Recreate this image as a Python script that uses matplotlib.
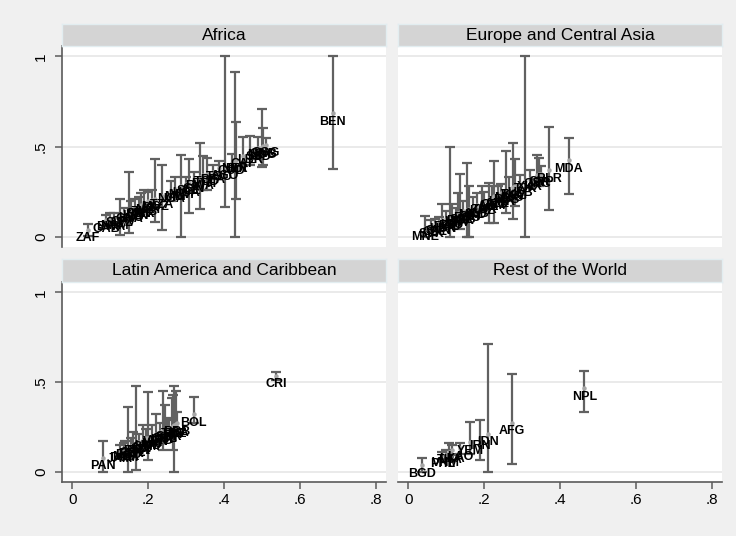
import numpy as np
import matplotlib
matplotlib.use("Agg")
import matplotlib.pyplot as plt

plt.rcParams['font.family'] = ['Liberation Sans', 'DejaVu Sans']

# data: x, y (grey dots), lower / upper ends of the bars
af_code = ['ZAF', 'GAB', 'BWA', 'NAM', 'SWZ', 'CPV', 'GHA', 'LSO', 'KEN', 'SEN',
           'CMR', 'ZMB', 'MRT', 'CIV', 'MOZ', 'TZA', 'NGA', 'MLI', 'MWI', 'UGA',
           'SLE', 'GIN', 'RWA', 'ETH', 'TCD', 'BFA', 'TGO', 'AGO', 'COD', 'NER',
           'BDI', 'CAF', 'LBR', 'SSD', 'MDG', 'GNB', 'COG', 'BEN']
af_x = [0.041, 0.090, 0.100, 0.110, 0.125, 0.135, 0.150, 0.155, 0.165, 0.175,
        0.180, 0.190, 0.200, 0.210, 0.217, 0.235, 0.260, 0.270, 0.287, 0.300,
        0.307, 0.320, 0.336, 0.345, 0.354, 0.370, 0.387, 0.401, 0.420, 0.428,
        0.432, 0.450, 0.468, 0.490, 0.500, 0.503, 0.510, 0.686]
af_y = [0.039, 0.090, 0.100, 0.105, 0.120, 0.130, 0.145, 0.150, 0.160, 0.170,
        0.175, 0.185, 0.195, 0.205, 0.210, 0.225, 0.255, 0.265, 0.280, 0.290,
        0.300, 0.310, 0.330, 0.340, 0.350, 0.360, 0.380, 0.385, 0.410, 0.420,
        0.425, 0.450, 0.470, 0.490, 0.500, 0.505, 0.510, 0.684]
af_lo = [0.005, 0.060, 0.070, 0.080, 0.011, 0.100, 0.022, 0.100, 0.120, 0.130,
         0.140, 0.140, 0.150, 0.160, 0.081, 0.035, 0.200, 0.220, 0.000, 0.250,
         0.131, 0.270, 0.152, 0.258, 0.258, 0.320, 0.350, 0.165, 0.370, 0.000,
         0.208, 0.390, 0.400, 0.430, 0.388, 0.400, 0.470, 0.376]
af_hi = [0.072, 0.120, 0.130, 0.130, 0.208, 0.160, 0.360, 0.200, 0.210, 0.220,
         0.240, 0.260, 0.250, 0.260, 0.430, 0.400, 0.310, 0.330, 0.453, 0.330,
         0.430, 0.360, 0.517, 0.445, 0.435, 0.400, 0.420, 1.000, 0.460, 0.911,
         0.638, 0.551, 0.556, 0.550, 0.709, 0.601, 0.545, 1.000]

eu_code = ['MNE', 'SVK', 'CZE', 'SVN', 'HUN', 'POL', 'EST', 'LTU', 'LVA', 'HRV',
           'BGR', 'SRB', 'ROU', 'BIH', 'MKD', 'ALB', 'KAZ', 'TUR', 'LIE', 'ARM',
           'GEO', 'AZE', 'UKR', 'RUS', 'MNG', 'KGZ', 'TKM', 'UZB', 'TJK', 'XKX',
           'GRC', 'ISR', 'CYP', 'BLR', 'MDA']
eu_x = [0.045, 0.060, 0.070, 0.080, 0.090, 0.100, 0.110, 0.115, 0.125, 0.130,
        0.137, 0.145, 0.155, 0.160, 0.170, 0.180, 0.194, 0.200, 0.213, 0.220,
        0.227, 0.235, 0.245, 0.257, 0.265, 0.277, 0.280, 0.295, 0.308, 0.320,
        0.339, 0.345, 0.350, 0.370, 0.422]
eu_y = [0.047, 0.060, 0.070, 0.080, 0.090, 0.100, 0.105, 0.110, 0.120, 0.130,
        0.135, 0.140, 0.150, 0.155, 0.165, 0.175, 0.190, 0.195, 0.210, 0.215,
        0.225, 0.230, 0.240, 0.250, 0.260, 0.275, 0.280, 0.290, 0.310, 0.320,
        0.340, 0.345, 0.350, 0.369, 0.425]
eu_lo = [0.000, 0.030, 0.040, 0.050, 0.050, 0.060, 0.000, 0.060, 0.070, 0.080,
         0.040, 0.090, 0.000, 0.000, 0.120, 0.130, 0.140, 0.150, 0.078, 0.170,
         0.078, 0.190, 0.200, 0.130, 0.200, 0.096, 0.170, 0.240, 0.000, 0.270,
         0.280, 0.280, 0.310, 0.150, 0.239]
eu_hi = [0.113, 0.090, 0.100, 0.110, 0.180, 0.140, 0.500, 0.180, 0.160, 0.240,
         0.345, 0.200, 0.410, 0.280, 0.220, 0.240, 0.280, 0.250, 0.300, 0.280,
         0.420, 0.280, 0.290, 0.477, 0.330, 0.518, 0.430, 0.340, 1.000, 0.370,
         0.453, 0.435, 0.390, 0.610, 0.545]

la_code = ['PAN', 'JAM', 'DOM', 'MEX', 'ECU', 'PER', 'COL', 'BRA', 'PRY', 'SLV',
           'GTM', 'HND', 'NIC', 'VEN', 'ARG', 'URY', 'CHL', 'GUY', 'SUR', 'HTI',
           'TTO', 'BLZ', 'LCA', 'BRB', 'BOL', 'CRI']
la_x = [0.081, 0.125, 0.135, 0.140, 0.147, 0.155, 0.160, 0.169, 0.175, 0.185,
        0.195, 0.199, 0.210, 0.220, 0.230, 0.238, 0.243, 0.250, 0.255, 0.262,
        0.265, 0.269, 0.272, 0.275, 0.320, 0.537]
la_y = [0.076, 0.115, 0.125, 0.130, 0.140, 0.145, 0.150, 0.160, 0.165, 0.175,
        0.185, 0.190, 0.200, 0.210, 0.220, 0.225, 0.230, 0.235, 0.240, 0.250,
        0.255, 0.260, 0.265, 0.270, 0.321, 0.536]
la_lo = [0.000, 0.080, 0.090, 0.100, 0.000, 0.100, 0.110, 0.010, 0.120, 0.120,
         0.140, 0.067, 0.150, 0.170, 0.180, 0.120, 0.180, 0.190, 0.190, 0.200,
         0.120, 0.000, 0.210, 0.220, 0.270, 0.510]
la_hi = [0.172, 0.150, 0.160, 0.170, 0.363, 0.190, 0.220, 0.475, 0.210, 0.260,
         0.240, 0.446, 0.260, 0.320, 0.270, 0.452, 0.370, 0.290, 0.300, 0.410,
         0.430, 0.479, 0.450, 0.330, 0.419, 0.558]

rw_code = ['BGD', 'PHL', 'VNM', 'THA', 'LKA', 'LAO', 'YEM', 'IRN', 'IDN', 'AFG', 'NPL']
rw_x = [0.036, 0.090, 0.100, 0.108, 0.115, 0.136, 0.163, 0.188, 0.210, 0.272, 0.464]
rw_y = [0.035, 0.090, 0.095, 0.110, 0.120, 0.130, 0.163, 0.190, 0.211, 0.273, 0.466]
rw_lo = [0.000, 0.070, 0.070, 0.080, 0.090, 0.100, 0.100, 0.067, 0.000, 0.045, 0.334]
rw_hi = [0.078, 0.110, 0.120, 0.160, 0.150, 0.160, 0.276, 0.289, 0.714, 0.544, 0.562]

titles = ['Africa', 'Europe and Central Asia', 'Latin America and Caribbean', 'Rest of the World']
x_ticks = [0, 0.2, 0.4, 0.6, 0.8]
x_labels = ['0', '.2', '.4', '.6', '.8']
y_ticks = [0, 0.5, 1]
y_labels = ['0', '.5', '1']

groups = [(af_code, af_x, af_y, af_lo, af_hi),
          (eu_code, eu_x, eu_y, eu_lo, eu_hi),
          (la_code, la_x, la_y, la_lo, la_hi),
          (rw_code, rw_x, rw_y, rw_lo, rw_hi)]

W, H = 736, 536
fig = plt.figure(figsize=(W / 100, H / 100), dpi=100, facecolor='#f0f0f0')

axis_col = '#5a5a5a'
# pixel boxes (left, top, right, bottom) of the plot regions
boxes = [(62, 46, 386, 247), (398, 46, 722, 247),
         (62, 282, 386, 482), (398, 282, 722, 482)]

for i, (box, title, grp) in enumerate(zip(boxes, titles, groups)):
    l, t, r, b = box
    ax = fig.add_axes([l / W, 1 - b / H, (r - l) / W, (b - t) / H])
    ax.set_facecolor('white')
    code, x, y, lo, hi = grp
    x = np.array(x); y = np.array(y)
    lo = np.array(lo); hi = np.array(hi)

    for yt in y_ticks:
        ax.axhline(yt, color='#e8e8e8', lw=1.3, zorder=0)

    ax.errorbar(x, y, yerr=[y - lo, hi - y], fmt='none', ecolor='#616161',
                elinewidth=1.6, capsize=3.3, capthick=1.6, zorder=2)
    ax.plot(x, y, 'o', color='#a6a6a6', ms=3.2, mew=0, zorder=3)
    for c, xx, yy in zip(code, x, y):
        ax.annotate(c, (xx, yy), xytext=(0, -8.5), textcoords='offset pixels',
                    ha='center', va='center', fontsize=9, fontweight='bold',
                    color='black', zorder=4)

    ax.set_xlim(-0.027, 0.826)
    ax.set_ylim(-0.058, 1.058)
    for s in ax.spines.values():
        s.set_visible(False)

    left = i % 2 == 0
    bottom = i >= 2
    if left:
        ax.spines['left'].set_visible(True)
        ax.spines['left'].set_color(axis_col)
        ax.spines['left'].set_linewidth(1.2)
        ax.set_yticks(y_ticks)
        ax.set_yticklabels(y_labels, rotation=90, va='center', fontsize=11)
        ax.tick_params(axis='y', length=5, width=1.1, color=axis_col, pad=5)
    else:
        ax.set_yticks([])
    if bottom:
        ax.spines['bottom'].set_visible(True)
        ax.spines['bottom'].set_color(axis_col)
        ax.spines['bottom'].set_linewidth(1.2)
        ax.set_xticks(x_ticks)
        ax.set_xticklabels(x_labels, fontsize=11)
        ax.tick_params(axis='x', length=5, width=1.1, color=axis_col, pad=3)
    else:
        ax.set_xticks([])

    # grey title strip above the panel
    bt = t - 22 if i < 2 else t - 23
    tax = fig.add_axes([l / W, 1 - t / H, (r - l) / W, (t - bt) / H])
    tax.set_facecolor('#d4d4d4')
    tax.set_xticks([]); tax.set_yticks([])
    for s in tax.spines.values():
        s.set_color('#e2edf0')
        s.set_linewidth(1.0)
    tax.text(0.5, 0.48, title, ha='center', va='center', fontsize=12.5,
             transform=tax.transAxes)

fig.savefig('out.png', dpi=100, facecolor=fig.get_facecolor())
